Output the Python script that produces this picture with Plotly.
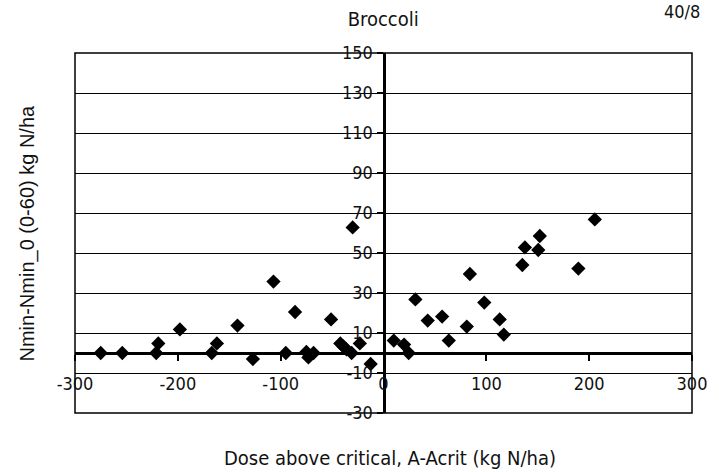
import plotly.graph_objects as go

# Data
dose_above_critical = [-275, -254, -221, -219, -198, -167, -162, -142, -127, -107,
                       -95, -86, -75, -73, -68, -51, -30, -42, -39, -36, -31,
                       -23, -12.5,
                       10, 20, 24.5, 31, 43, 57, 63.5, 81, 84, 98, 113, 117,
                       135, 137.5, 150.5, 152, 189.5, 205.5]
nmin_diff = [0, 0, 0, 4.8, 11.8, 0, 4.8, 13.7, -3, 35.7,
             0, 20.5, 0.5, -2.2, 0, 16.8, 62.8, 4.8, 3.3, 1.8, 0,
             4.8, -5.5,
             6.2, 4.2, 0, 26.8, 16.2, 18.2, 6.2, 13.2, 39.5, 25.2, 16.8, 9.2,
             44, 52.8, 51.5, 58.5, 42.2, 66.8]

x_tick_vals = [-300, -200, -100, 0, 100, 200, 300]
x_tick_text = ["-300", "-200", "-100", "0", "100", "200", "300"]
y_tick_vals = [-30, -10, 10, 30, 50, 70, 90, 110, 130, 150]
y_tick_text = ["-30", "-10", "10", "30", "50", "70", "90", "110", "130", "150"]

title_text = "Broccoli"
corner_text = "40/8"
x_title = "Dose above critical, A-Acrit (kg N/ha)"
y_title = "Nmin-Nmin_0 (0-60) kg N/ha"

narrow = "Liberation Sans Narrow, DejaVu Sans Condensed, Liberation Sans, sans-serif"
regular = "Liberation Sans, Arial, sans-serif"

fig = go.Figure()
fig.add_trace(go.Scatter(
    x=dose_above_critical, y=nmin_diff, mode="markers",
    marker=dict(symbol="diamond", size=11, color="black"),
    showlegend=False,
))

fig.update_layout(
    width=719, height=472,
    margin=dict(l=75, r=17, t=53, b=59),
    paper_bgcolor="white", plot_bgcolor="white",
    title=dict(text=title_text, x=0.533, xanchor="center", y=0.96, yanchor="middle",
               font=dict(family=narrow, size=20, color="#111")),
    xaxis=dict(
        range=[-300, 300], anchor="free", position=30 / 180,
        showline=True, linewidth=3, linecolor="black",
        ticks="outside", ticklen=6, tickwidth=2, tickcolor="black",
        tickvals=x_tick_vals, ticktext=x_tick_text,
        ticklabelstandoff=7,
        tickfont=dict(family=narrow, size=18, color="#111"),
        showgrid=False, zeroline=False,
    ),
    yaxis=dict(
        range=[-30, 150], anchor="free", position=0.5,
        showline=True, linewidth=3, linecolor="black",
        ticks="outside", ticklen=6, tickwidth=2, tickcolor="black",
        tickvals=y_tick_vals, ticktext=y_tick_text,
        tickfont=dict(family=narrow, size=18, color="#111"),
        showgrid=True, gridcolor="black", gridwidth=1, zeroline=False,
    ),
    shapes=[dict(type="rect", xref="paper", yref="paper", x0=0, y0=0, x1=1, y1=1,
                 line=dict(color="black", width=1.5), layer="below")],
    annotations=[
        dict(text=corner_text, xref="paper", yref="paper", x=1.017, y=1.115,
             xanchor="right", yanchor="middle", showarrow=False,
             font=dict(family=narrow, size=18, color="#111")),
        dict(text=x_title, xref="paper", yref="paper", x=0.51, y=-0.125,
             xanchor="center", yanchor="middle", showarrow=False,
             font=dict(family=narrow, size=20, color="#111")),
        dict(text=y_title, xref="paper", yref="paper", x=-0.077, y=0.5,
             xanchor="center", yanchor="middle", textangle=-90, showarrow=False,
             font=dict(family=regular, size=20, color="#111")),
    ],
)

fig.write_html("out.html")
